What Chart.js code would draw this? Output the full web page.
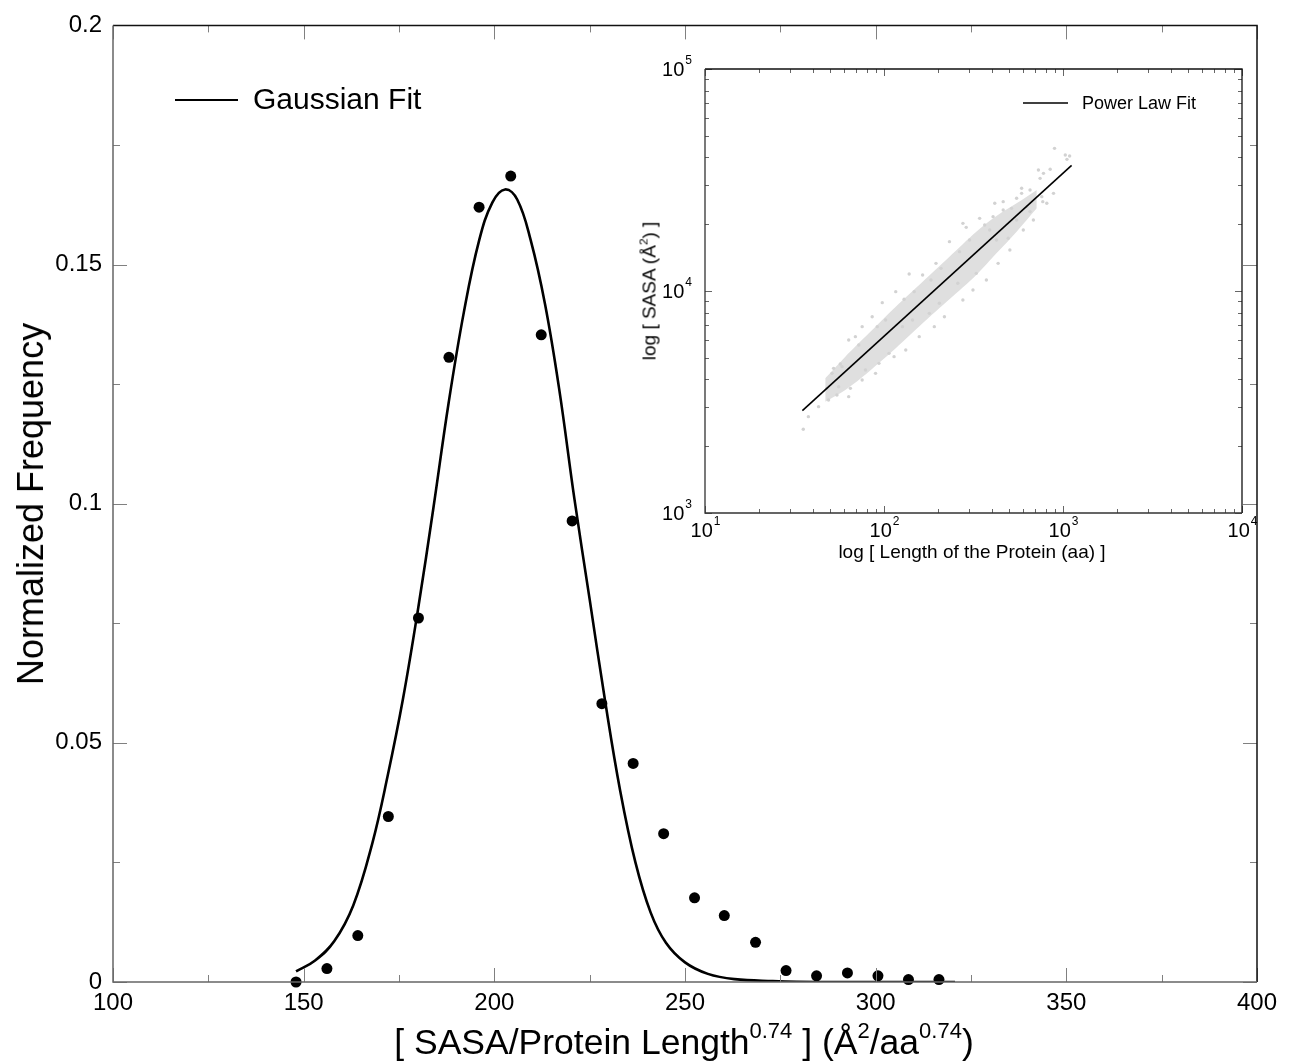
<!DOCTYPE html>
<html>
<head>
<meta charset="utf-8">
<script src="https://cdn.jsdelivr.net/npm/chart.js@4.4.1/dist/chart.umd.min.js"></script>
<style>
  body { margin: 0; background: #fff; }
  #wrap { position: relative; width: 1290px; height: 1061px; font-family: "Liberation Sans", Arial, sans-serif; color: #000; }
  canvas { position: absolute; }
  #main { left: 0; top: 0; }
  #inset { left: 630px; top: 50px; }
  .lbl { position: absolute; white-space: nowrap; line-height: 1; }
  .lbl sup { font-size: 0.62em; vertical-align: 0.72em; line-height: 0; }
  .rot { transform: translate(-50%, -50%) rotate(-90deg); }
  .ctr { transform: translate(-50%, -50%); }
</style>
</head>
<body>
<div id="wrap">
  <canvas id="main" width="1290" height="1061"></canvas>
  <canvas id="inset" width="650" height="530"></canvas>
  <div class="lbl ctr" style="left:684px; top:1043px; font-size:35.5px;">[ SASA/Protein Length<sup>0.74</sup> ] (Å<sup>2</sup>/aa<sup>0.74</sup>)</div>
  <div class="lbl rot" style="left:31px; top:504px; font-size:36px;">Normalized Frequency</div>
  <div class="lbl ctr" style="left:972px; top:551px; font-size:19px;">log [ Length of the Protein (aa) ]</div>
  <div class="lbl rot" style="left:649px; top:291px; font-size:19px;">log [ SASA (Å<sup>2</sup>) ]</div>
</div>
<script>
// main plot: histogram of SASA / length^0.74
const xTicks = [100, 150, 200, 250, 300, 350, 400];
const yTicks = [0, 0.05, 0.1, 0.15, 0.2];

const binCenters = [148.0, 156.1, 164.2, 172.2, 180.1, 188.1, 196.0, 204.3, 212.3, 220.4, 228.2,
                    236.4, 244.4, 252.5, 260.3, 268.5, 276.5, 284.5, 292.6, 300.6, 308.6, 316.6];
const binFreq = [0, 0.0028, 0.0097, 0.0346, 0.0761, 0.1306, 0.1620, 0.1685, 0.1353, 0.0964, 0.0582,
                 0.0457, 0.0310, 0.0176, 0.0139, 0.0083, 0.0024, 0.0013, 0.0019, 0.0013, 0.0005, 0.0005];

// fitted curve
const gaussX = [148, 153, 158, 163, 168, 172, 176, 180, 184, 188, 192, 196, 199.5, 202.8,
                206, 209.5, 213.3, 217, 221, 225, 229, 233, 237, 241, 245, 250, 256, 263,
                273, 285, 320.8];
const gaussY = [0.0022, 0.0045, 0.0085, 0.0160, 0.0290, 0.0430, 0.0590, 0.0780, 0.0990, 0.1210,
                0.1400, 0.1550, 0.1630, 0.1657, 0.1636, 0.1552, 0.1417, 0.1240, 0.1010, 0.0800,
                0.0590, 0.0400, 0.0250, 0.0145, 0.0082, 0.0041, 0.0017, 0.0006, 0.0002, 0, 0];

// inset: log-log SASA vs length
const lenTicks = [10, 100, 1000, 10000];
const sasaTicks = [1000, 10000, 100000];

const fitLen = [35, 1117];
const fitSasa = [2890, 36800];

// dense part of the cloud, upper and lower edge
const bandLen = [46.95, 60.8, 82.3, 116.3, 164.3, 232.1, 327.8, 424.8, 550.6, 713.6];
const bandHigh = [4042, 5061, 6447, 8500, 11020, 14280, 18510, 21770, 24830, 28510];
const bandLow = [3174, 3582, 4330, 5518, 7152, 9173, 11810, 14780, 18510, 23570];

// loose proteins around the cloud
const scatLen = [896.9, 1029.7, 1089, 1052, 729, 777.8, 847.9, 744.8, 587.3, 587.3, 761.1, 770.9,
                 626.6, 463.3, 415.7, 515.9, 342.2, 288.0, 494.1, 232.1, 424.8, 195.2, 164.3, 138.2,
                 116.3, 97.8, 327.8, 258.5, 203.8, 179.1, 144.3, 126.8, 106.6, 93.7, 78.8, 64.9,
                 55.8, 54.6, 43.1, 37.8, 35.4, 85.9, 75.5, 63.5, 52.3, 48.0, 58.3, 69.2, 275.9,
                 389.6, 550.6, 654.3,
                 51.2, 57.0, 72.3, 91.7, 102.1, 129.5, 147.4, 183.0, 208.3, 264.2, 300.7, 365.2,
                 406.8, 463.3, 49.0, 63.5, 75.5, 89.7, 113.8, 132.3, 157.3, 191.0, 217.5, 275.9,
                 314.1, 373.2, 434.1, 505.0, 600.1, 683.2, 811.9, 885.1, 654.4, 550.6];
const scatSasa = [43920, 40990, 40560, 39180, 35090, 33880, 35330, 32170, 29010, 27540, 26610, 25260,
                  23990, 25260, 24830, 23570, 21250, 19350, 17280, 16680, 16970, 13320, 11810, 11930,
                  9931, 8861, 12010, 10830, 8801, 7932, 7403, 6908, 5238, 4722, 4407, 3643,
                  3707, 3401, 3013, 2716, 2382, 7662, 6908, 6017, 4484, 3643, 4562, 6229, 20170,
                  18830, 20880, 22780,
                  4257, 4691, 5713, 6909, 7403, 9173, 9931, 11210, 12650, 15040, 16970, 19830,
                  21620, 23170, 3228, 3342, 3972, 4257, 5061, 5424, 6229, 6909, 7662, 9110,
                  10100, 11210, 13320, 15300, 18830, 20880, 24830, 27540, 28510, 26150];

const FONT = '"Liberation Sans", Arial, sans-serif';

function pts(xs, ys) {
    return xs.map((x, i) => ({ x: x, y: ys[i] }));
}

// box round the plot area with ticks pointing inwards on all four sides
function boxPlugin(cfg) {
    return {
        id: 'box',
        beforeDraw(chart) {
            const a = chart.chartArea;
            if (cfg.fill) {
                chart.ctx.fillStyle = '#fff';
                chart.ctx.fillRect(a.left, a.top, a.right - a.left, a.bottom - a.top);
            }
        },
        afterDraw(chart) {
            const { ctx, chartArea: a, scales: { x, y } } = chart;
            ctx.save();
            ctx.lineWidth = 1;
            ctx.strokeStyle = cfg.tickColor;
            ctx.beginPath();
            const tx = (v, len) => {
                const p = Math.round(x.getPixelForValue(v)) + 0.5;
                ctx.moveTo(p, a.bottom); ctx.lineTo(p, a.bottom - len);
                ctx.moveTo(p, a.top); ctx.lineTo(p, a.top + len);
            };
            const ty = (v, len) => {
                const p = Math.round(y.getPixelForValue(v)) + 0.5;
                ctx.moveTo(a.left, p); ctx.lineTo(a.left + len, p);
                ctx.moveTo(a.right, p); ctx.lineTo(a.right - len, p);
            };
            cfg.xMajor.forEach(v => tx(v, cfg.major));
            cfg.xMinor.forEach(v => tx(v, cfg.minor));
            cfg.yMajor.forEach(v => ty(v, cfg.major));
            cfg.yMinor.forEach(v => ty(v, cfg.minor));
            ctx.stroke();

            ctx.lineWidth = cfg.lineWidth;
            ctx.strokeStyle = cfg.topRight;
            ctx.beginPath();
            ctx.moveTo(a.left, a.top); ctx.lineTo(a.right, a.top); ctx.lineTo(a.right, a.bottom);
            ctx.stroke();
            ctx.strokeStyle = cfg.bottomLeft;
            ctx.beginPath();
            ctx.moveTo(a.left, a.top); ctx.lineTo(a.left, a.bottom); ctx.lineTo(a.right, a.bottom);
            ctx.stroke();
            ctx.restore();
        }
    };
}

function legendPlugin(cfg) {
    return {
        id: 'legendLine',
        afterDraw(chart) {
            const ctx = chart.ctx;
            ctx.save();
            ctx.strokeStyle = '#000';
            ctx.lineWidth = cfg.width;
            ctx.beginPath();
            ctx.moveTo(cfg.x0, cfg.y); ctx.lineTo(cfg.x1, cfg.y);
            ctx.stroke();
            ctx.fillStyle = '#000';
            ctx.font = cfg.size + 'px ' + FONT;
            ctx.textBaseline = 'middle';
            ctx.fillText(cfg.text, cfg.tx, cfg.y + 1);
            ctx.restore();
        }
    };
}

function mids(arr) {
    const out = [];
    for (let i = 0; i < arr.length - 1; i++) out.push((arr[i] + arr[i + 1]) / 2);
    return out;
}

function logMinor(arr) {
    const out = [];
    for (let i = 0; i < arr.length - 1; i++) {
        for (let k = 2; k <= 9; k++) out.push(arr[i] * k);
    }
    return out;
}

const mainChart = new Chart(document.getElementById('main'), {
    type: 'line',
    data: {
        datasets: [
            {
                label: 'Gaussian Fit',
                data: pts(gaussX, gaussY),
                borderColor: '#000',
                borderWidth: 2.6,
                pointRadius: 0,
                tension: 0.4,
                fill: false
            },
            {
                label: 'Data',
                data: pts(binCenters, binFreq),
                showLine: false,
                pointRadius: 5.5,
                pointBackgroundColor: '#000',
                pointBorderWidth: 0,
                clip: false
            }
        ]
    },
    options: {
        responsive: false,
        animation: false,
        events: [],
        layout: { padding: { left: 0, top: 24, right: 33, bottom: 0 } },
        plugins: { legend: { display: false }, tooltip: { enabled: false } },
        scales: {
            x: {
                type: 'linear',
                min: 100,
                max: 400,
                afterBuildTicks: s => { s.ticks = xTicks.map(v => ({ value: v })); },
                afterFit: s => { s.height = 79; },
                grid: { display: false, drawTicks: false },
                border: { display: false },
                ticks: { font: { family: FONT, size: 24 }, color: '#000', padding: 7, maxRotation: 0, autoSkip: false }
            },
            y: {
                type: 'linear',
                min: 0,
                max: 0.2,
                afterBuildTicks: s => { s.ticks = yTicks.map(v => ({ value: v })); },
                afterFit: s => { s.width = 113; },
                grid: { display: false, drawTicks: false },
                border: { display: false },
                ticks: {
                    font: { family: FONT, size: 24 }, color: '#000', padding: 11, autoSkip: false,
                    callback: v => String(+v.toFixed(3))
                }
            }
        }
    },
    plugins: [
        boxPlugin({
            xMajor: xTicks, xMinor: mids(xTicks), yMajor: yTicks, yMinor: mids(yTicks),
            major: 14, minor: 7, lineWidth: 1.5, tickColor: '#808080',
            topRight: '#111', bottomLeft: '#666', fill: false
        }),
        legendPlugin({ x0: 175, x1: 238, y: 100, width: 2, text: 'Gaussian Fit', tx: 253, size: 30 })
    ]
});

// exponent-style tick labels of the inset
const powerLabels = {
    id: 'powerLabels',
    afterDraw(chart) {
        const { ctx, chartArea: a, scales: { x, y } } = chart;
        ctx.save();
        ctx.fillStyle = '#000';
        ctx.textBaseline = 'middle';
        const big = '20px ' + FONT, small = '12px ' + FONT;
        const label = (v, px, py, align) => {
            const e = String(Math.round(Math.log10(v)));
            ctx.font = big;
            const w1 = ctx.measureText('10').width;
            ctx.font = small;
            const w2 = ctx.measureText(e).width;
            const left = align === 'center' ? px - (w1 + w2) / 2 : px - w1 - w2;
            ctx.textAlign = 'left';
            ctx.font = big;
            ctx.fillText('10', left, py);
            ctx.font = small;
            ctx.fillText(e, left + w1 + 1, py - 9);
        };
        lenTicks.forEach(v => label(v, x.getPixelForValue(v), a.bottom + 18, 'center'));
        sasaTicks.forEach(v => label(v, a.left - 14, y.getPixelForValue(v) + 1, 'right'));
        ctx.restore();
    }
};

const insetChart = new Chart(document.getElementById('inset'), {
    type: 'line',
    data: {
        datasets: [
            {
                label: 'Power Law Fit',
                data: pts(fitLen, fitSasa),
                borderColor: '#000',
                borderWidth: 1.6,
                pointRadius: 0,
                fill: false
            },
            {
                label: 'Proteins',
                data: pts(scatLen, scatSasa),
                showLine: false,
                pointRadius: 1.7,
                pointBackgroundColor: '#d2d2d2',
                pointBorderWidth: 0
            },
            {
                label: 'Cloud high',
                data: pts(bandLen, bandHigh),
                borderWidth: 0,
                pointRadius: 0,
                tension: 0.3,
                fill: '+1',
                backgroundColor: '#dfdfdf'
            },
            {
                label: 'Cloud low',
                data: pts(bandLen, bandLow),
                borderWidth: 0,
                pointRadius: 0,
                tension: 0.3,
                fill: false
            }
        ]
    },
    options: {
        responsive: false,
        animation: false,
        events: [],
        layout: { padding: { left: 0, top: 19, right: 38, bottom: 0 } },
        plugins: { legend: { display: false }, tooltip: { enabled: false } },
        scales: {
            x: {
                type: 'logarithmic',
                min: 10,
                max: 10000,
                afterFit: s => { s.height = 67; },
                grid: { display: false, drawTicks: false },
                border: { display: false },
                ticks: { display: false }
            },
            y: {
                type: 'logarithmic',
                min: 1000,
                max: 100000,
                afterFit: s => { s.width = 75; },
                grid: { display: false, drawTicks: false },
                border: { display: false },
                ticks: { display: false }
            }
        }
    },
    plugins: [
        boxPlugin({
            xMajor: lenTicks, xMinor: logMinor(lenTicks), yMajor: sasaTicks, yMinor: logMinor(sasaTicks),
            major: 7, minor: 4, lineWidth: 1.3, tickColor: '#666',
            topRight: '#111', bottomLeft: '#333', fill: true
        }),
        powerLabels,
        legendPlugin({ x0: 393, x1: 438, y: 53, width: 1.5, text: 'Power Law Fit', tx: 452, size: 18 })
    ]
});
</script>
</body>
</html>
